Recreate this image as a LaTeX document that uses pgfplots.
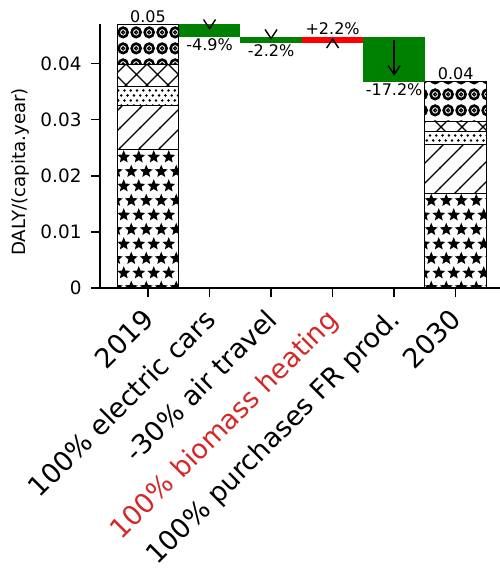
\documentclass[border=0pt]{standalone}
\usepackage{pgfplots}
\pgfplotsset{compat=1.18}
\usepackage{fontspec}
\setmainfont{DejaVu Sans}
\usetikzlibrary{patterns, arrows.meta}
\definecolor{tabred}{HTML}{D62728}
\definecolor{mplgreen}{HTML}{008000}

\newcommand\starat[2]{%
 \pgfpathmoveto{\pgfpointadd{\pgfpoint{#1}{#2}}{\pgfpointpolar{90}{6.8pt}}}%
 \pgfpathlineto{\pgfpointadd{\pgfpoint{#1}{#2}}{\pgfpointpolar{126}{3.0pt}}}%
 \pgfpathlineto{\pgfpointadd{\pgfpoint{#1}{#2}}{\pgfpointpolar{162}{6.8pt}}}%
 \pgfpathlineto{\pgfpointadd{\pgfpoint{#1}{#2}}{\pgfpointpolar{198}{3.0pt}}}%
 \pgfpathlineto{\pgfpointadd{\pgfpoint{#1}{#2}}{\pgfpointpolar{234}{6.8pt}}}%
 \pgfpathlineto{\pgfpointadd{\pgfpoint{#1}{#2}}{\pgfpointpolar{270}{3.0pt}}}%
 \pgfpathlineto{\pgfpointadd{\pgfpoint{#1}{#2}}{\pgfpointpolar{306}{6.8pt}}}%
 \pgfpathlineto{\pgfpointadd{\pgfpoint{#1}{#2}}{\pgfpointpolar{342}{3.0pt}}}%
 \pgfpathlineto{\pgfpointadd{\pgfpoint{#1}{#2}}{\pgfpointpolar{18}{6.8pt}}}%
 \pgfpathlineto{\pgfpointadd{\pgfpoint{#1}{#2}}{\pgfpointpolar{54}{3.0pt}}}%
 \pgfpathclose}

\pgfdeclarepatternformonly{bigstars}{\pgfqpoint{-8pt}{-8pt}}{\pgfqpoint{23pt}{37pt}}{\pgfqpoint{15pt}{29pt}}{%
  \starat{3.75pt}{5pt}\starat{11.25pt}{19.5pt}\pgfusepath{fill}}

\pgfdeclarepatternformonly{biglines}{\pgfqpoint{-1pt}{-1pt}}{\pgfqpoint{21pt}{21pt}}{\pgfqpoint{20pt}{20pt}}{%
  \pgfsetlinewidth{1.3pt}%
  \pgfpathmoveto{\pgfqpoint{-1pt}{-1pt}}\pgfpathlineto{\pgfqpoint{21pt}{21pt}}\pgfusepath{stroke}}

\pgfdeclarepatternformonly{bigx}{\pgfqpoint{-1pt}{-1pt}}{\pgfqpoint{22pt}{22pt}}{\pgfqpoint{21pt}{21pt}}{%
  \pgfsetlinewidth{1.4pt}%
  \pgfpathmoveto{\pgfqpoint{-1pt}{-1pt}}\pgfpathlineto{\pgfqpoint{22pt}{22pt}}%
  \pgfpathmoveto{\pgfqpoint{-1pt}{22pt}}\pgfpathlineto{\pgfqpoint{22pt}{-1pt}}\pgfusepath{stroke}}

\pgfdeclarepatternformonly{smalldots}{\pgfqpoint{-2pt}{-2pt}}{\pgfqpoint{8.3pt}{12pt}}{\pgfqpoint{6.3pt}{10pt}}{%
  \pgfpathcircle{\pgfqpoint{1.6pt}{2.5pt}}{1.4pt}%
  \pgfpathcircle{\pgfqpoint{4.75pt}{7.5pt}}{1.4pt}\pgfusepath{fill}}

\pgfdeclarepatternformonly{rings}{\pgfqpoint{0pt}{0pt}}{\pgfqpoint{13pt}{15.5pt}}{\pgfqpoint{13pt}{15.5pt}}{%
  \pgfsetlinewidth{2.7pt}%
  \pgfpathcircle{\pgfqpoint{6.5pt}{7.75pt}}{4.8pt}\pgfusepath{stroke}%
  \pgfsetlinewidth{1.2pt}%
  \pgfpathcircle{\pgfqpoint{6.5pt}{7.75pt}}{1.6pt}\pgfusepath{stroke}}

\begin{document}
\begin{tikzpicture}
\path[use as bounding box] (-100pt,-280pt) rectangle (400pt,288pt);
\begin{axis}[
  at={(0pt,0pt)}, anchor=south west,
  scale only axis, width=400pt, height=264pt,
  xmin=-0.78, xmax=5.72, ymin=0, ymax=0.0471,
  enlargelimits=false, clip=false,
  axis lines=left, axis line style={-, line width=1.3pt},
  xtick={0,1,2,3,4,5},
  xticklabels={2019, 100\% electric cars, -30\% air travel, {\color{tabred}100\% biomass heating}, 100\% purchases FR prod., 2030},
  ytick={0,0.01,0.02,0.03,0.04},
  yticklabels={0,0.01,0.02,0.03,0.04},
  scaled y ticks=false,
  tick align=outside, major tick length=9pt,
  tick style={line width=1.3pt, black},
  xticklabel style={xshift=-7pt, yshift=-10pt, rotate=45, anchor=north east, inner sep=0pt, font=\fontsize{27}{30}\selectfont},
  yticklabel style={xshift=-6pt, font=\fontsize{18.4}{20}\selectfont},
  ylabel={DALY/(capita.year)},
  ylabel style={at={(axis description cs:-0.2,0.44)}, anchor=center, font=\fontsize{18.2}{20}\selectfont},
]
% 2019 stacked bar
\addplot[pattern=bigstars, draw=black, line width=0.9pt] coordinates {(-0.5,0) (0.5,0) (0.5,0.02464) (-0.5,0.02464)} -- cycle;
\addplot[pattern=biglines, draw=black, line width=0.9pt] coordinates {(-0.5,0.02464) (0.5,0.02464) (0.5,0.0325) (-0.5,0.0325)} -- cycle;
\addplot[pattern=smalldots, draw=black, line width=0.9pt] coordinates {(-0.5,0.0325) (0.5,0.0325) (0.5,0.0359) (-0.5,0.0359)} -- cycle;
\addplot[pattern=bigx, draw=black, line width=0.9pt] coordinates {(-0.5,0.0359) (0.5,0.0359) (0.5,0.0398) (-0.5,0.0398)} -- cycle;
\addplot[pattern=rings, draw=black, line width=0.9pt] coordinates {(-0.5,0.0398) (0.5,0.0398) (0.5,0.0471) (-0.5,0.0471)} -- cycle;
% 2030 stacked bar
\addplot[pattern=bigstars, draw=black, line width=0.9pt] coordinates {(4.5,0) (5.5,0) (5.5,0.01679) (4.5,0.01679)} -- cycle;
\addplot[pattern=biglines, draw=black, line width=0.9pt] coordinates {(4.5,0.01679) (5.5,0.01679) (5.5,0.02554) (4.5,0.02554)} -- cycle;
\addplot[pattern=smalldots, draw=black, line width=0.9pt] coordinates {(4.5,0.02554) (5.5,0.02554) (5.5,0.02786) (4.5,0.02786)} -- cycle;
\addplot[pattern=bigx, draw=black, line width=0.9pt] coordinates {(4.5,0.02786) (5.5,0.02786) (5.5,0.02964) (4.5,0.02964)} -- cycle;
\addplot[pattern=rings, draw=black, line width=0.9pt] coordinates {(4.5,0.02964) (5.5,0.02964) (5.5,0.03679) (4.5,0.03679)} -- cycle;
% waterfall steps
\addplot[fill=mplgreen, draw=none] coordinates {(0.5,0.0448) (1.5,0.0448) (1.5,0.0471) (0.5,0.0471)} -- cycle;
\addplot[fill=mplgreen, draw=none] coordinates {(1.5,0.04376) (2.5,0.04376) (2.5,0.0448) (1.5,0.0448)} -- cycle;
\addplot[fill=red, draw=none] coordinates {(2.5,0.04376) (3.5,0.04376) (3.5,0.0448) (2.5,0.0448)} -- cycle;
\addplot[fill=mplgreen, draw=none] coordinates {(3.5,0.03679) (4.5,0.03679) (4.5,0.0448) (3.5,0.0448)} -- cycle;
% arrows
\addplot[black, line width=1.4pt, -{Straight Barb[length=9pt,width=12pt]}] coordinates {(1,0.04661) (1,0.04607)};
\addplot[black, line width=1.4pt, -{Straight Barb[length=9pt,width=12pt]}] coordinates {(2,0.04450) (2,0.04429)};
\addplot[black, line width=1.4pt, -{Straight Barb[length=9pt,width=12pt]}] coordinates {(3,0.04400) (3,0.04464)};
\addplot[black, line width=1.4pt, -{Straight Barb[length=9pt,width=12pt]}] coordinates {(4,0.04429) (4,0.03786)};
% value labels
\begin{scope}[every node/.style={font=\fontsize{16}{18}\selectfont, inner sep=1.5pt}]
\node[anchor=south] at (axis cs:0,0.0471) {0.05};
\node[anchor=north] at (axis cs:1,0.0448) {-4.9\%};
\node[anchor=north] at (axis cs:2,0.04376) {-2.2\%};
\node[anchor=south] at (axis cs:3,0.0448) {+2.2\%};
\node[anchor=north] at (axis cs:4,0.03679) {-17.2\%};
\node[anchor=south] at (axis cs:5,0.03679) {0.04};
\end{scope}
\end{axis}
\end{tikzpicture}
\end{document}
